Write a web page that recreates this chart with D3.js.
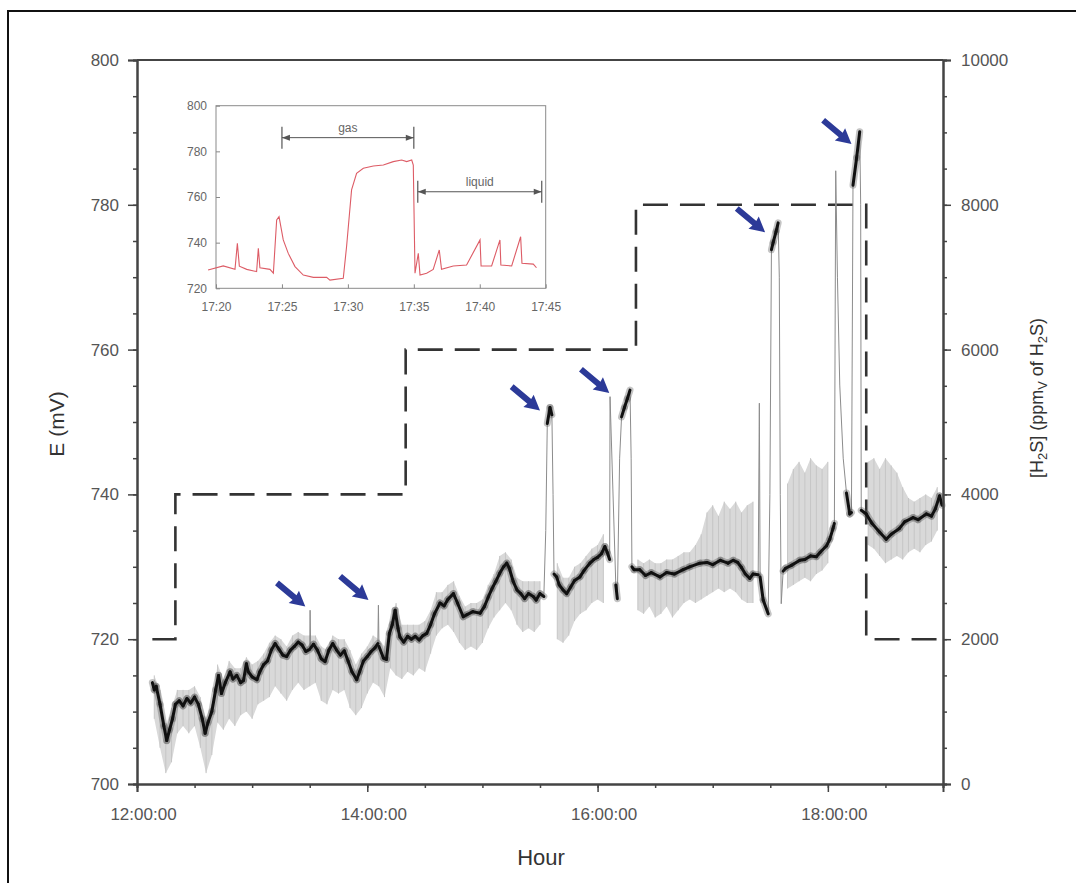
<!DOCTYPE html>
<html>
<head>
<meta charset="utf-8">
<script src="https://cdn.jsdelivr.net/npm/d3@7"></script>
<style>
  body { margin: 0; background: #fff; }
  svg { display: block; font-family: "Liberation Sans", Arial, sans-serif; }
</style>
</head>
<body>
<svg id="chart" width="1076" height="883"></svg>
<script>
// ---- data (minutes after 12:00:00, potential in mV) ----
var traceMinutes = [8, 9, 10, 12, 14, 15.5, 17, 18.5, 20, 22, 24, 26, 28, 30, 32, 34, 35.5, 37, 39, 41,
    42.5, 44, 46, 48.5, 50, 52, 54, 55.5, 57, 58, 60, 62.5, 64, 66, 68, 70, 72, 74, 76, 78,
    80, 82, 84, 86, 88, 90, 90.2, 90.5, 92, 94, 96, 98, 100, 102, 104, 106, 108, 110, 112, 114.5,
    116, 118, 120, 122, 124, 125.5, 125.8, 126.1, 128.4, 130, 131.5, 133, 134.5, 136, 137, 139, 141, 143, 145, 147,
    149, 151, 153, 155, 157.9, 160, 162, 164.9, 167, 170, 172, 175, 178.8, 181, 183, 185, 187, 189, 191, 192.7,
    194, 196, 198, 200, 202, 204, 206.5, 208, 210, 212, 213, 213.8, 215.2, 216.2, 216.8, 217.3, 218.7, 220, 222, 223.9,
    226, 228, 230.8, 233, 236, 238, 240, 242, 243.8, 245, 246.3, 246.5, 249.5, 250.3, 251.5, 252.5, 254, 255.5, 256.9, 257.5,
    257.9, 259, 262, 265, 268, 272.5, 276, 280, 284.6, 288, 293.3, 297, 300, 304, 308, 310.7, 313, 315, 317, 319.3,
    321, 323.7, 324.3, 324.7, 326.3, 328.9, 329.8, 330.6, 331.5, 333, 334.1, 334.7, 335.2, 335.7, 336.7, 338, 341, 345.4, 348, 351,
    354, 356, 359.3, 361, 362.7, 363.4, 364.1, 365, 366.2, 368, 369.7, 371.4, 372.3, 373.1, 375, 376.6, 377.1, 377.4, 380, 383,
    386.9, 390.4, 393, 397.3, 400, 404.4, 407, 411.3, 414, 416, 418.2, 419.5];
var traceMV = [714.0, 713.0, 713.5, 711.0, 708.0, 706.0, 707.5, 709.0, 711.0, 711.5, 710.8, 711.8, 711.2, 712.0, 711.0, 709.0, 707.0, 708.5, 710.0, 713.0,
    715.0, 712.5, 714.0, 715.5, 714.5, 715.0, 714.0, 714.3, 716.6, 715.5, 714.8, 714.4, 715.5, 716.5, 717.0, 718.5, 719.4, 718.6, 717.8, 717.6,
    718.5, 719.0, 719.6, 719.2, 718.3, 718.6, 724.0, 718.8, 719.3, 718.5, 717.3, 716.9, 718.5, 719.4, 718.5, 717.8, 718.4, 717.0, 715.5, 714.4,
    715.5, 717.0, 717.6, 718.3, 718.8, 719.4, 724.7, 719.0, 717.4, 717.2, 720.8, 722.0, 724.0, 721.5, 720.3, 719.6, 720.4, 720.0, 720.4, 719.9,
    720.5, 720.8, 722.0, 723.5, 725.0, 724.6, 725.5, 726.3, 725.0, 723.1, 723.4, 723.8, 723.6, 724.5, 725.8, 727.0, 728.0, 729.1, 730.0, 730.5,
    729.8, 728.0, 726.8, 726.3, 725.6, 726.3, 725.9, 725.4, 726.3, 725.9, 735.0, 749.8, 752.0, 751.0, 740.0, 729.0, 728.6, 727.5, 726.8, 726.3,
    727.2, 728.1, 728.6, 729.5, 730.5, 731.0, 731.3, 731.8, 732.8, 732.0, 731.0, 753.5, 727.5, 725.6, 745.0, 750.7, 752.0, 753.2, 754.4, 745.0,
    730.0, 729.6, 729.6, 728.8, 729.2, 728.6, 729.2, 729.0, 729.6, 730.0, 730.5, 730.6, 730.3, 730.9, 730.5, 730.9, 730.6, 729.9, 729.0, 728.4,
    729.0, 728.9, 752.6, 728.6, 725.4, 723.5, 740.0, 773.8, 774.8, 776.3, 777.5, 770.0, 740.0, 724.9, 729.4, 729.8, 730.2, 730.9, 731.0, 731.5,
    731.4, 732.0, 732.9, 733.8, 735.3, 736.0, 784.7, 770.0, 755.1, 745.0, 740.2, 737.3, 737.5, 782.7, 786.5, 790.1, 780.0, 737.8, 737.3, 736.0,
    734.8, 733.8, 734.5, 735.3, 736.2, 736.8, 736.5, 737.3, 737.0, 738.0, 739.8, 738.5];

// scatter band around the trace (minutes after 12:00, lower / upper mV)
var bandMinutes = [9, 12, 15, 18, 21, 24, 27, 30, 33, 36, 39, 42, 45, 48, 51, 54, 57, 60, 63, 66,
    69, 72, 75, 78, 81, 84, 87, 90, 93, 96, 99, 102, 105, 108, 111, 114, 117, 120, 123, 126,
    129, 132, 135, 138, 141, 144, 147, 150, 153, 156, 159, 162, 165, 168, 171, 174, 177, 180, 183, 186,
    189, 192, 195, 198, 201, 204, 207, 210, 213, 216, 219, 222, 225, 228, 231, 234, 237, 240, 243, 246,
    249, 252, 255, 258, 261, 264, 267, 270, 273, 276, 279, 282, 285, 288, 291, 294, 297, 300, 303, 306,
    309, 312, 315, 318, 321, 324, 327, 330, 333, 336, 339, 342, 345, 348, 351, 354, 357, 360, 363, 366,
    369, 372, 375, 378, 381, 384, 387, 390, 393, 396, 399, 402, 405, 408, 411, 414, 417];
var bandLow = [709, 705, 701.5, 703, 707, 708, 707, 708, 705, 701.5, 704, 708.5, 707.5, 709, 708, 709.5, 710, 709, 711, 711.5,
    712, 713.5, 712.5, 711.5, 713, 714, 713, 713.5, 714, 711.5, 711, 713, 712.5, 713, 710.5, 709.5, 710.5, 712.5, 714, 713.5,
    712, 716, 715, 714.5, 715.5, 715, 716, 715.5, 718, 720.5, 721.5, 722, 721, 719.5, 718.5, 719, 718.5, 719.5, 721.5, 723,
    724, 725, 724, 722, 721, 721.5, 721, 722, null, null, 720, 719.5, 720.5, 722.5, 723.5, 724, 725, 725.5, 725, null,
    null, null, null, null, 724, 723.5, 724.5, 723, 723.5, 724.5, 723, 724, 725, 725.5, 725, 725.5, 726, 726.5, 727, 726.5,
    727, 726.5, 725.5, 725, 725, null, null, null, null, null, 727, 727.5, 728, 728.5, 728, 729, 729.5, 730.5, null, null,
    null, null, null, null, 733, 732.5, 731.5, 730.5, 731, 731.5, 731, 732, 732.5, 732, 733, 733.5, 735];
var bandHigh = [715, 713, 708, 710.5, 713, 713, 713, 713.5, 712, 709, 711, 716.5, 714.5, 717, 716, 716, 717.5, 716.5, 717, 718,
    719.5, 720.5, 720, 719, 720.5, 721, 720.5, 720.5, 720.5, 719, 718.5, 720.5, 720, 720, 718.5, 716.5, 718, 719, 720.5, 720,
    719, 722.5, 725, 722, 722, 722, 722, 722.5, 724, 726.5, 726.5, 727.5, 728, 726, 724.5, 725, 725, 725.5, 727.5, 729,
    731.5, 732, 731, 728.5, 728, 728, 728, 728, null, null, 730.5, 728.5, 728.5, 730, 730.5, 731.5, 732.5, 733, 734.5, null,
    null, null, null, null, 731, 730.5, 731, 730.5, 730.5, 731, 731, 731.5, 732, 732, 733, 734.5, 737.5, 738.5, 737, 739,
    738, 739, 737.5, 738.5, 739, null, null, null, null, null, 741.5, 743.5, 744.5, 743, 745, 744, 743.5, 744.5, null, null,
    null, null, null, null, 744.5, 745, 743.5, 745, 744, 743, 741, 739.5, 739, 739.5, 740, 739.5, 741];

// H2S concentration steps (minutes after 12:00, ppmV)
var h2sMinutes = [8, 20, 140, 260, 380, 420];
var h2sPpm = [2000, 4000, 6000, 8000, 2000, 2000];

// blue arrows: tip position (minutes after 12:00, mV)
var arrowMinutes = [87.7, 120.6, 210, 246.1, 327.3, 372.3];
var arrowMV = [724.5, 725.4, 751.6, 754, 776.2, 788.4];

// ---- inset data (minutes after 17:20) ----
var insetMinutes = [-0.6, 0.55, 1.44, 1.62, 1.77, 2.33, 3.08, 3.21, 3.33, 4.09, 4.35, 4.6, 4.78, 5.1, 5.48, 5.99, 6.62, 7.38, 8.39, 8.64,
    9.65, 9.9, 10.28, 10.66, 11.17, 11.93, 12.69, 13.44, 14.08, 14.46, 14.84, 14.96, 15.09, 15.34, 15.47, 15.97, 16.47, 16.93, 17.1, 17.99,
    19.0, 20.02, 20.1, 20.9, 21.53, 21.6, 22.42, 23.1, 23.2, 24.06, 24.3];
var insetMV = [728, 729.8, 728.3, 739.7, 729.7, 728.3, 727.3, 737.5, 729, 728.3, 726.6, 749.9, 751.4, 741.2, 735.3, 729.5, 725.8, 724.8, 724.8, 723.6,
    724.4, 738.2, 763.1, 770.4, 772.6, 773.6, 774, 775.5, 776.2, 775.5, 776.2, 774, 726.6, 735.3, 725.8, 726.6, 728.3, 736.8, 728.3, 729.8,
    730.2, 741.2, 729.8, 729.8, 741.2, 730.2, 729.8, 742.6, 731, 730.6, 729];
var phaseNames = ["gas", "liquid"];
var phaseStart = [5, 15.3];
var phaseEnd = [15, 24.7];
var phaseLevel = [786, 762.3];

var eTicks = [700, 720, 740, 760, 780, 800];
var ppmTicks = [0, 2000, 4000, 6000, 8000, 10000];
var hourTicks = [0, 120, 240, 360];
var insetETicks = [720, 740, 760, 780, 800];
var insetTimeTicks = [0, 5, 10, 15, 20, 25];

// ---- set-up ----
var svg = d3.select("#chart");
var noon = new Date(2000, 0, 1, 12, 0, 0);
function atMinute(m) { return new Date(noon.getTime() + m * 60000); }

var x = d3.scaleTime().domain([atMinute(0), atMinute(420)]).range([137, 943]);
var yE = d3.scaleLinear().domain([700, 800]).range([784, 60]);
var yC = d3.scaleLinear().domain([0, 10000]).range([784, 60]);

// outer frame (top + left only)
svg.append("path")
    .attr("d", "M8,883V11H1076")
    .attr("fill", "none")
    .attr("stroke", "#111")
    .attr("stroke-width", 2);

//////// grey scatter band
var band = bandMinutes.map(function(m, i) {
    return { t: atMinute(m), lo: bandLow[i], hi: bandHigh[i] };
});
var area = d3.area()
    .defined(function(d) { return d.lo !== null; })
    .x(function(d) { return x(d.t); })
    .y0(function(d) { return yE(d.lo); })
    .y1(function(d) { return yE(d.hi); });
svg.append("path")
    .datum(band)
    .attr("d", area)
    .attr("fill", "#d9d9d9");
svg.append("g").selectAll("line")
    .data(band.filter(function(d) { return d.lo !== null; }))
    .join("line")
    .attr("x1", function(d) { return x(d.t); })
    .attr("x2", function(d) { return x(d.t); })
    .attr("y1", function(d) { return yE(d.lo); })
    .attr("y2", function(d) { return yE(d.hi); })
    .attr("stroke", "#c6c6c6")
    .attr("stroke-width", 1);

//////// H2S dashed steps
var steps = h2sMinutes.map(function(m, i) { return { t: atMinute(m), c: h2sPpm[i] }; });
svg.append("path")
    .datum(steps)
    .attr("d", d3.line()
        .x(function(d) { return x(d.t); })
        .y(function(d) { return yC(d.c); })
        .curve(d3.curveStepAfter))
    .attr("fill", "none")
    .attr("stroke", "#333")
    .attr("stroke-width", 2.6)
    .attr("stroke-dasharray", "25,12");

//////// potential trace
var pts = traceMinutes.map(function(m, i) { return [x(atMinute(m)), yE(traceMV[i])]; });
// thin grey line for the whole trace (fast transitions stay thin)
svg.append("path")
    .datum(pts)
    .attr("d", d3.line())
    .attr("fill", "none")
    .attr("stroke", "#8c8c8c")
    .attr("stroke-width", 1);

var slowSegs = d3.pairs(pts).filter(function(s) {
    var dx = Math.abs(s[1][0] - s[0][0]), dy = Math.abs(s[1][1] - s[0][1]);
    return !(dy > 30 && dy > 3 * dx);
});
svg.append("g").selectAll("line")
    .data(slowSegs)
    .join("line")
    .attr("x1", function(s) { return s[0][0]; })
    .attr("y1", function(s) { return s[0][1]; })
    .attr("x2", function(s) { return s[1][0]; })
    .attr("y2", function(s) { return s[1][1]; })
    .attr("stroke", "#555")
    .attr("stroke-opacity", 0.35)
    .attr("stroke-width", 7)
    .attr("stroke-linecap", "round");
svg.append("g").selectAll("line")
    .data(slowSegs)
    .join("line")
    .attr("x1", function(s) { return s[0][0]; })
    .attr("y1", function(s) { return s[0][1]; })
    .attr("x2", function(s) { return s[1][0]; })
    .attr("y2", function(s) { return s[1][1]; })
    .attr("stroke", "#111")
    .attr("stroke-width", 3)
    .attr("stroke-linecap", "round");

//////// blue arrows
var arrowShape = "M-37,-3L-14,-3L-15,-8L0,0L-15,8L-14,3L-37,3Z";
svg.append("g").selectAll("path")
    .data(arrowMinutes)
    .join("path")
    .attr("d", arrowShape)
    .attr("transform", function(m, i) {
        return "translate(" + x(atMinute(m)) + "," + yE(arrowMV[i]) + ") rotate(40)";
    })
    .attr("fill", "#2c3a98");

//////// axes
function styleAxis(g, size) {
    g.attr("font-family", "Liberation Sans, Arial, sans-serif").attr("font-size", size);
    g.select(".domain").attr("stroke", "#444").attr("stroke-width", 2);
    g.selectAll(".tick line").attr("stroke", "#444").attr("stroke-width", 1.5);
    g.selectAll(".tick text").attr("fill", "#555");
}

var minorHour = d3.range(0, 421, 30).map(atMinute);
var gxMinor = svg.append("g").attr("transform", "translate(0,784)")
    .call(d3.axisBottom(x).tickValues(minorHour).tickSize(4).tickFormat(""));
styleAxis(gxMinor, 17);
var gx = svg.append("g").attr("transform", "translate(0,784)")
    .call(d3.axisBottom(x).tickValues(hourTicks.map(atMinute)).tickSize(8).tickPadding(16)
        .tickFormat(d3.timeFormat("%H:%M:%S")));
styleAxis(gx, 17);
gx.selectAll(".tick text").attr("dx", 6);

var gyMinor = svg.append("g").attr("transform", "translate(137,0)")
    .call(d3.axisLeft(yE).tickValues(d3.range(700, 801, 5)).tickSize(4).tickFormat(""));
styleAxis(gyMinor, 17);
var gy = svg.append("g").attr("transform", "translate(137,0)")
    .call(d3.axisLeft(yE).tickValues(eTicks).tickSize(9).tickPadding(9));
styleAxis(gy, 17);

var gcMinor = svg.append("g").attr("transform", "translate(943,0)")
    .call(d3.axisRight(yC).tickValues(d3.range(0, 10001, 500)).tickSize(4).tickFormat(""));
styleAxis(gcMinor, 17);
var gc = svg.append("g").attr("transform", "translate(943,0)")
    .call(d3.axisRight(yC).tickValues(ppmTicks).tickSize(8).tickPadding(10).tickFormat(d3.format("d")));
styleAxis(gc, 17);

// top frame line
svg.append("line")
    .attr("x1", x.range()[0]).attr("x2", x.range()[1])
    .attr("y1", yE(800)).attr("y2", yE(800))
    .attr("stroke", "#444").attr("stroke-width", 2);

// axis titles
svg.append("text")
    .attr("transform", "translate(64,424) rotate(-90)")
    .attr("text-anchor", "middle")
    .attr("font-size", 21)
    .attr("fill", "#333")
    .text("E (mV)");
svg.append("text")
    .attr("x", 541).attr("y", 865)
    .attr("text-anchor", "middle")
    .attr("font-size", 22)
    .attr("fill", "#333")
    .text("Hour");
var rt = svg.append("text")
    .attr("transform", "translate(1043,398) rotate(-90)")
    .attr("text-anchor", "middle")
    .attr("font-size", 18)
    .attr("fill", "#333");
rt.append("tspan").text("[H");
rt.append("tspan").attr("font-size", 13).attr("dy", 4).text("2");
rt.append("tspan").attr("dy", -4).text("S] (ppm");
rt.append("tspan").attr("font-size", 13).attr("dy", 4).text("V");
rt.append("tspan").attr("dy", -4).text(" of H");
rt.append("tspan").attr("font-size", 13).attr("dy", 4).text("2");
rt.append("tspan").attr("dy", -4).text("S)");

//////// inset
var xi = d3.scaleTime().domain([atMinute(320), atMinute(345)]).range([216, 545.7]);
var yi = d3.scaleLinear().domain([720, 800]).range([288.3, 105.7]);
var inset = svg.append("g");

inset.append("rect")
    .attr("x", 216).attr("y", 105.7)
    .attr("width", 545.7 - 216).attr("height", 288.3 - 105.7)
    .attr("fill", "#fff")
    .attr("stroke", "#8a8a8a")
    .attr("stroke-width", 1);

function styleInset(g) {
    g.attr("font-family", "Liberation Sans, Arial, sans-serif").attr("font-size", 12);
    g.select(".domain").remove();
    g.selectAll(".tick line").attr("stroke", "#888");
    g.selectAll(".tick text").attr("fill", "#666");
}
var gix = inset.append("g").attr("transform", "translate(0,288.3)")
    .call(d3.axisBottom(xi).tickValues(insetTimeTicks.map(function(m) { return atMinute(320 + m); }))
        .tickSize(-4).tickPadding(14).tickFormat(d3.timeFormat("%H:%M")));
styleInset(gix);
var giy = inset.append("g").attr("transform", "translate(216,0)")
    .call(d3.axisLeft(yi).tickValues(insetETicks).tickSize(-4).tickPadding(9));
styleInset(giy);

inset.append("path")
    .datum(insetMinutes.map(function(m, i) { return [xi(atMinute(320 + m)), yi(insetMV[i])]; }))
    .attr("d", d3.line())
    .attr("fill", "none")
    .attr("stroke", "#dd5c66")
    .attr("stroke-width", 1.1);

// phase brackets
phaseNames.forEach(function(name, i) {
    var x0 = xi(atMinute(320 + phaseStart[i]));
    var x1 = xi(atMinute(320 + phaseEnd[i]));
    var yy = yi(phaseLevel[i]);
    var g = inset.append("g").attr("stroke", "#555").attr("fill", "#555");
    g.append("line").attr("x1", x0).attr("x2", x1).attr("y1", yy).attr("y2", yy).attr("stroke-width", 1);
    g.append("line").attr("x1", x0).attr("x2", x0).attr("y1", yy - 11).attr("y2", yy + 11).attr("stroke-width", 1.2);
    g.append("line").attr("x1", x1).attr("x2", x1).attr("y1", yy - 11).attr("y2", yy + 11).attr("stroke-width", 1.2);
    g.append("path").attr("stroke", "none")
        .attr("d", "M" + x0 + "," + yy + "l8,-3l0,6z");
    g.append("path").attr("stroke", "none")
        .attr("d", "M" + x1 + "," + yy + "l-8,-3l0,6z");
    inset.append("text")
        .attr("x", (x0 + x1) / 2).attr("y", yy - 6)
        .attr("text-anchor", "middle")
        .attr("font-size", 12)
        .attr("fill", "#666")
        .text(name);
});
</script>
</body>
</html>
